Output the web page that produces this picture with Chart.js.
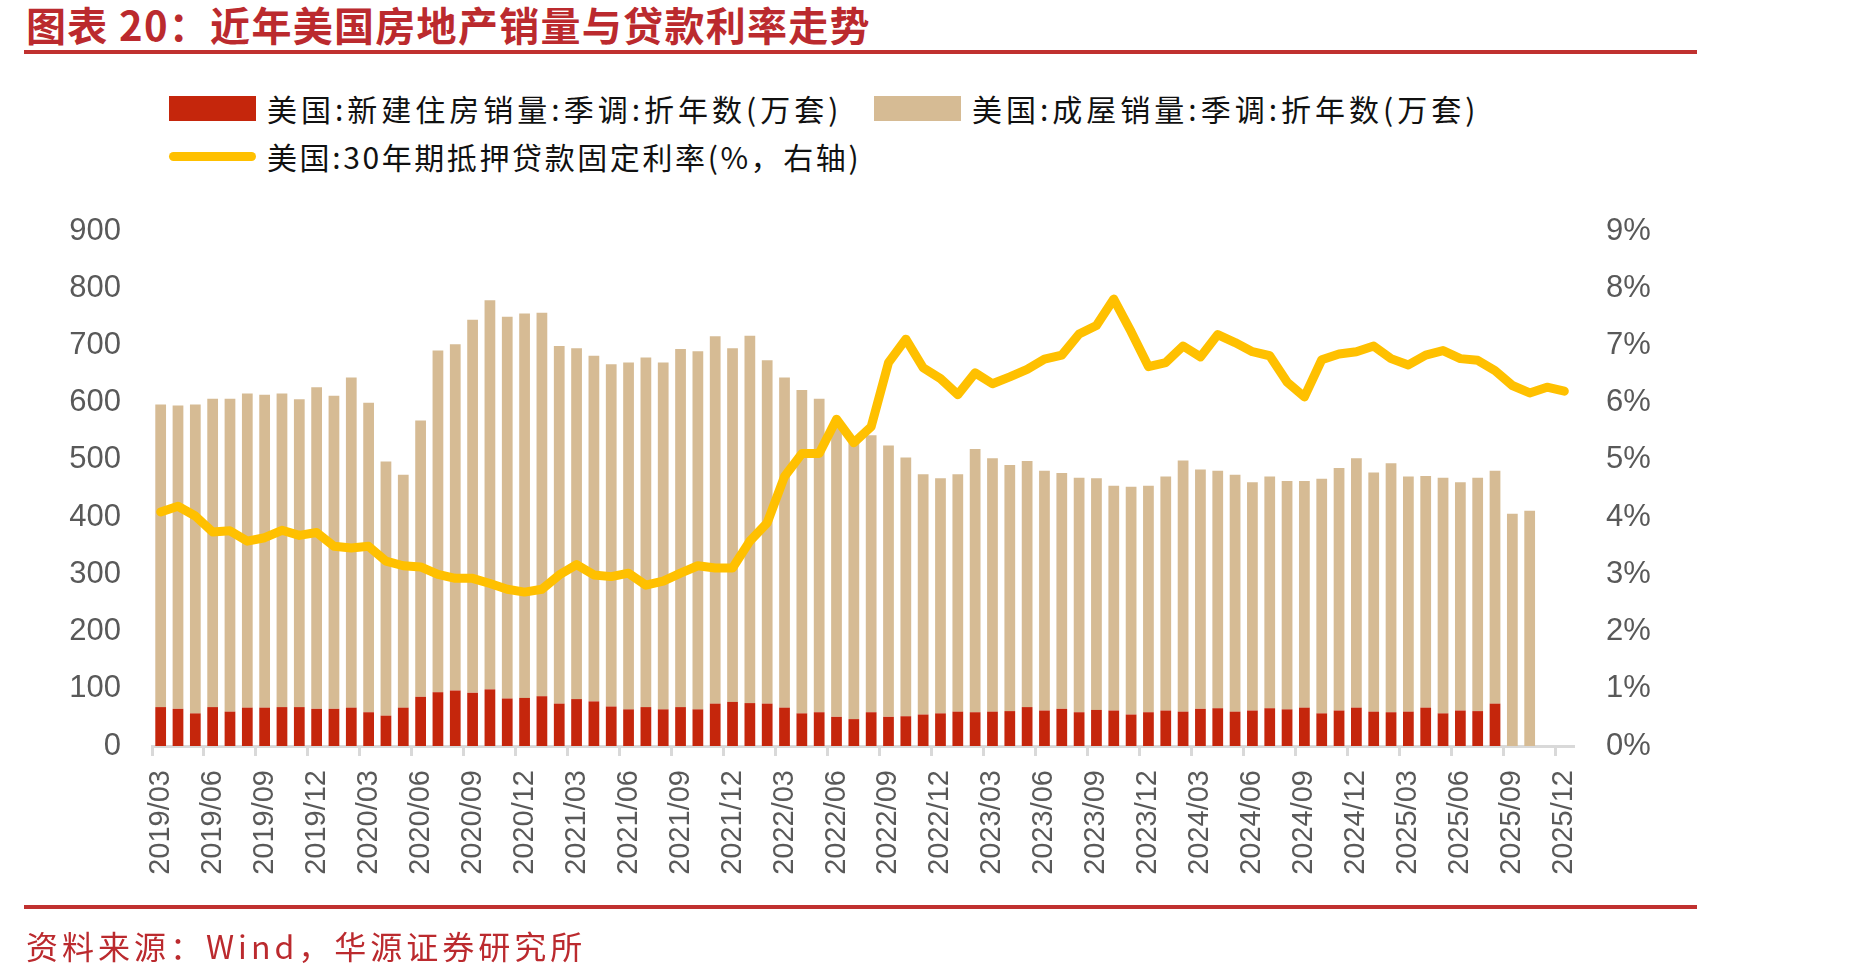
<!DOCTYPE html>
<html>
<head>
<meta charset="utf-8">
<script src="https://cdn.jsdelivr.net/npm/chart.js@4.4.1/dist/chart.umd.min.js"></script>
<style>
  html, body { margin: 0; padding: 0; background: #fff; }
  #wrap { position: relative; width: 1852px; height: 979px; overflow: hidden; }
  #chart { position: absolute; left: 0; top: 0; }
  .title { position: absolute; left: 26px; top: 2px; font: bold 40px/44px "Noto Sans CJK SC", sans-serif; color: #BB2A2E; white-space: nowrap; letter-spacing: 1.3px; }
  .rule { position: absolute; left: 24px; width: 1673px; height: 4px; background: #C0312F; }
  .source { position: absolute; left: 26px; top: 926px; font: 32px/38px "Noto Sans CJK SC", sans-serif; color: #BB2A2E; white-space: nowrap; letter-spacing: 4px; }
  .lg { position: absolute; height: 30px; white-space: nowrap; font: 30px/30px "Noto Sans CJK SC", sans-serif; color: #111; }
  .lg .sw { position: absolute; left: 0; }
  .lg .tx { position: absolute; left: 98px; top: 0; }
</style>
</head>
<body>
<div id="wrap">
  <div class="title">图表 20：近年美国房地产销量与贷款利率走势</div>
  <div class="rule" style="top:50px"></div>
  <div id="legend"></div>
  <canvas id="chart" width="1852" height="979"></canvas>
  <div class="rule" style="top:905px"></div>
  <div class="source">资料来源：Wind，华源证券研究所</div>
</div>
<script>
// months 2019/03 .. 2025/12
const months = [];
for (let y = 2019; y <= 2025; y++) {
  for (let m = (y === 2019 ? 3 : 1); m <= 12; m++) {
    months.push(y + "/" + String(m).padStart(2, "0"));
  }
}

// 新建住房销量 (万套), no data after 2025/08
const newHomeSales = [
  68, 65, 57, 68, 60, 67, 67, 68, 68, 65, 65, 67,
  59, 53, 67, 86, 94, 97, 93, 99, 83, 84, 87, 74,
  82, 78, 69, 64, 68, 64, 68, 64, 74, 77, 75, 74,
  67, 57, 59, 51, 47, 59, 51, 52, 55, 57, 60, 59,
  60, 61, 68, 62, 65, 59, 63, 62, 55, 59, 62, 60,
  65, 66, 60, 62, 66, 64, 67, 57, 62, 67, 60, 59,
  60, 67, 57, 62, 61, 74, null, null, null, null
];

// 成屋销量 (万套), no data after 2025/10
const existingHomeSales = [
  529, 530, 540, 539, 547, 549, 547, 548, 538, 562, 547, 577,
  541, 444, 407, 483, 597, 605, 652, 680, 667, 672, 670, 625,
  613, 604, 598, 606, 611, 606, 626, 626, 642, 618, 642, 600,
  577, 565, 548, 514, 483, 484, 474, 452, 420, 411, 415, 460,
  443, 430, 430, 419, 412, 410, 405, 393, 398, 396, 409, 439,
  418, 415, 414, 399, 405, 399, 396, 410, 424, 436, 418, 435,
  411, 405, 412, 399, 408, 407, 406, 411, null, null
];

// 30年期抵押贷款固定利率 (%)
const mortgageRate = [
  4.09, 4.19, 4.02, 3.74, 3.76, 3.58, 3.64, 3.77, 3.68, 3.73, 3.49, 3.46,
  3.49, 3.23, 3.15, 3.13, 3.00, 2.93, 2.93, 2.84, 2.74, 2.69, 2.74, 2.99,
  3.17, 2.99, 2.96, 3.02, 2.81, 2.88, 3.02, 3.15, 3.11, 3.11, 3.58, 3.90,
  4.71, 5.11, 5.11, 5.71, 5.30, 5.58, 6.70, 7.11, 6.61, 6.42, 6.14, 6.52,
  6.33, 6.45, 6.58, 6.76, 6.83, 7.20, 7.35, 7.81, 7.24, 6.63, 6.70, 6.99,
  6.80, 7.19, 7.05, 6.89, 6.82, 6.36, 6.10, 6.75, 6.85, 6.89, 6.99, 6.77,
  6.66, 6.83, 6.91, 6.77, 6.74, 6.56, 6.30, 6.17, 6.27, 6.20
];

const leftTicks = [0, 100, 200, 300, 400, 500, 600, 700, 800, 900];
const rightTicks = [0, 1, 2, 3, 4, 5, 6, 7, 8, 9];

const RED = "#C5260C";
const TAN = "#D6BB94";
const GOLD = "#FFC000";
const AXIS = "#D9D9D9";
const TICK_TXT = "#595959";

let config = {
  type: "bar",
  data: {
    labels: months,
    datasets: [
      {
        label: "美国:新建住房销量:季调:折年数(万套)",
        data: newHomeSales,
        backgroundColor: RED,
        yAxisID: "y",
        order: 1,
        barPercentage: 0.62,
        categoryPercentage: 1,
      },
      {
        label: "美国:成屋销量:季调:折年数(万套)",
        data: existingHomeSales,
        backgroundColor: TAN,
        yAxisID: "y",
        order: 1,
        barPercentage: 0.62,
        categoryPercentage: 1,
      },
      {
        type: "line",
        label: "美国:30年期抵押贷款固定利率(%，右轴)",
        data: mortgageRate,
        borderColor: GOLD,
        backgroundColor: GOLD,
        borderWidth: 9,
        pointRadius: 0,
        tension: 0,
        borderJoinStyle: "round",
        borderCapStyle: "round",
        yAxisID: "y1",
        order: 0,
      },
    ],
  },
  options: {
    responsive: false,
    animation: false,
    devicePixelRatio: 1,
    layout: { padding: { top: 231, left: 0, right: 0, bottom: 0 } },
    plugins: {
      legend: { display: false },
      tooltip: { enabled: false },
    },
    scales: {
      x: {
        stacked: true,
        offset: true,
        grid: {
          offset: true,
          drawOnChartArea: false,
          drawTicks: true,
          tickLength: 10,
          lineWidth: 3,
          color: (ctx) => (ctx.index % 3 === 0 ? AXIS : "rgba(0,0,0,0)"),
        },
        border: { display: true, color: AXIS, width: 3 },
        ticks: {
          autoSkip: false,
          minRotation: 90,
          maxRotation: 90,
          padding: 14,
          color: TICK_TXT,
          font: { family: "'Liberation Sans', Arial, sans-serif", size: 29 },
          callback: function (value, index) {
            return index % 3 === 0 ? this.getLabelForValue(value) : "";
          },
        },
        afterFit: (scale) => { scale.height = 233; },
      },
      y: {
        stacked: true,
        position: "left",
        min: 0,
        max: 900,
        afterBuildTicks: (scale) => { scale.ticks = leftTicks.map((v) => ({ value: v })); },
        grid: { display: false },
        border: { display: false },
        ticks: {
          padding: 23,
          color: TICK_TXT,
          font: { family: "'Liberation Sans', Arial, sans-serif", size: 31 },
        },
        afterFit: (scale) => { scale.width = 152; },
      },
      y1: {
        position: "right",
        min: 0,
        max: 9,
        afterBuildTicks: (scale) => { scale.ticks = rightTicks.map((v) => ({ value: v })); },
        grid: { display: false },
        border: { display: false },
        ticks: {
          padding: 25,
          color: TICK_TXT,
          font: { family: "'Liberation Sans', Arial, sans-serif", size: 31 },
          callback: (v) => v + "%",
        },
        afterFit: (scale) => { scale.width = 279; },
      },
    },
  },
};

let ctx = document.getElementById("chart").getContext("2d");
window.myChart = new Chart(ctx, config);

// legend built from the datasets (html, so it can sit where the original has it)
const legendSpots = [
  { left: 169, top: 93, spacing: 4 },
  { left: 874, top: 93, spacing: 4 },
  { left: 169, top: 141, spacing: 2.6 },
];
const legendBox = document.getElementById("legend");
config.data.datasets.forEach((ds, i) => {
  const item = document.createElement("div");
  item.className = "lg";
  item.style.left = legendSpots[i].left + "px";
  item.style.top = legendSpots[i].top + "px";
  item.style.letterSpacing = legendSpots[i].spacing + "px";
  const sw = document.createElement("div");
  sw.className = "sw";
  if (ds.type === "line") {
    sw.style.cssText = "left:0;top:11px;width:87px;height:9px;border-radius:5px;background:" + ds.borderColor;
  } else {
    sw.style.cssText = "left:0;top:3px;width:87px;height:25px;background:" + ds.backgroundColor;
  }
  const tx = document.createElement("div");
  tx.className = "tx";
  tx.textContent = ds.label;
  item.appendChild(sw);
  item.appendChild(tx);
  legendBox.appendChild(item);
});
</script>
</body>
</html>
